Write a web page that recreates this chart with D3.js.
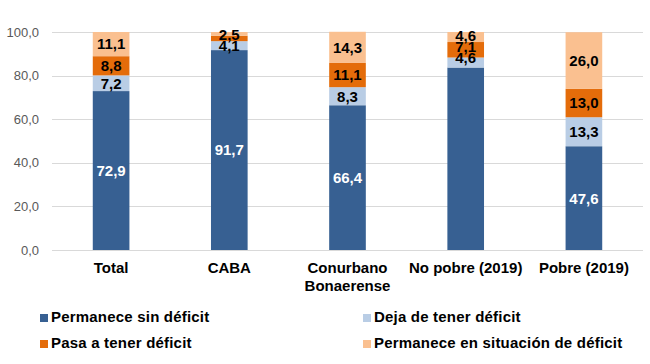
<!DOCTYPE html>
<html>
<head>
<meta charset="utf-8">
<script src="https://cdn.jsdelivr.net/npm/d3@7"></script>
<style>
  body { margin: 0; background: #fff; }
  text { font-family: "Liberation Sans", Arial, sans-serif; }
</style>
</head>
<body>
<div id="chart"></div>
<script>
// categories (x axis), line breaks with \n
const categories = ["Total", "CABA", "Conurbano\nBonaerense", "No pobre (2019)", "Pobre (2019)"];

// series, bottom to top
const seriesNames = ["Permanece sin déficit", "Deja de tener déficit", "Pasa a tener déficit", "Permanece en situación de déficit"];
const permaneceSin = [72.9, 91.7, 66.4, 83.7, 47.6];
const dejaDeTener = [7.2, 4.1, 8.3, 4.6, 13.3];
const pasaATener = [8.8, 2.5, 11.1, 7.1, 13.0];
const permaneceEn = [11.1, 1.7, 14.3, 4.6, 26.0];

const yTicks = [0, 20, 40, 60, 80, 100];

class StackedBarChart {
    constructor(_config) {
        this.config = {
            parentElement: _config.parentElement,
            containerWidth: _config.containerWidth,
            containerHeight: _config.containerHeight
        };
        this.initVis();
    }

    initVis() {
        let vis = this;

        vis.colors = ["#376092", "#b9cde5", "#e46c0a", "#fac090"];
        vis.labelColors = ["#ffffff", "#000000", "#000000", "#000000"];

        // labels the original leaves out, and the ones it pushes up to avoid overlap
        // key = series index + "-" + category index
        vis.hiddenLabels = ["3-1", "0-3"];
        vis.labelShift = { "2-1": -4, "1-3": -5, "2-3": -3, "3-3": -1 };

        vis.svg = d3.select(vis.config.parentElement).append("svg")
            .attr("width", vis.config.containerWidth)
            .attr("height", vis.config.containerHeight);

        vis.xScale = d3.scaleBand()
            .domain(categories)
            .range([52, 643])
            .paddingInner(0.69)
            .paddingOuter(0.345);

        vis.yScale = d3.scaleLinear()
            .domain([0, 100])
            .range([250, 32]);

        // build the stack table from the series arrays
        vis.table = categories.map((c, i) => ({
            cat: c,
            idx: i,
            s0: permaneceSin[i],
            s1: dejaDeTener[i],
            s2: pasaATener[i],
            s3: permaneceEn[i]
        }));
        vis.stacked = d3.stack().keys(["s0", "s1", "s2", "s3"])(vis.table);

        vis.renderVis();
    }

    renderVis() {
        let vis = this;

        // gridlines
        vis.svg.append("g")
            .selectAll("line")
            .data(yTicks)
            .join("line")
            .attr("x1", 52)
            .attr("x2", 643)
            .attr("y1", d => Math.round(vis.yScale(d)) + 0.5)
            .attr("y2", d => Math.round(vis.yScale(d)) + 0.5)
            .attr("stroke", "#d9d9d9")
            .attr("stroke-width", 1);

        // y axis labels
        vis.svg.append("g")
            .selectAll("text")
            .data(yTicks)
            .join("text")
            .attr("x", 39)
            .attr("y", d => vis.yScale(d))
            .attr("dy", "0.35em")
            .attr("text-anchor", "end")
            .style("font-size", "13px")
            .style("fill", "#595959")
            .text(d => d3.format(".1f")(d).replace(".", ","));

        // bars
        let layers = vis.svg.append("g")
            .selectAll("g")
            .data(vis.stacked)
            .join("g")
            .attr("fill", (d, i) => vis.colors[i]);

        layers.selectAll("rect")
            .data(d => d)
            .join("rect")
            .attr("x", d => vis.xScale(d.data.cat))
            .attr("y", d => vis.yScale(d[1]))
            .attr("width", vis.xScale.bandwidth())
            .attr("height", d => vis.yScale(d[0]) - vis.yScale(d[1]));

        // value labels
        vis.svg.append("g")
            .selectAll("g")
            .data(vis.stacked)
            .join("g")
            .attr("fill", (d, i) => vis.labelColors[i])
            .selectAll("text")
            .data(s => s.map(p => ({ p: p, key: s.index + "-" + p.data.idx }))
                .filter(d => !vis.hiddenLabels.includes(d.key)))
            .join("text")
            .attr("x", d => vis.xScale(d.p.data.cat) + vis.xScale.bandwidth() / 2)
            .attr("y", d => vis.yScale((d.p[0] + d.p[1]) / 2) + (vis.labelShift[d.key] || 0))
            .attr("dy", "0.36em")
            .attr("text-anchor", "middle")
            .style("font-size", "15px")
            .style("font-weight", "bold")
            .text(d => d3.format(".1f")(d.p[1] - d.p[0]).replace(".", ","));

        // category labels
        let catLabels = vis.svg.append("g")
            .selectAll("text")
            .data(categories)
            .join("text")
            .attr("x", d => vis.xScale(d) + vis.xScale.bandwidth() / 2)
            .attr("y", 273)
            .attr("text-anchor", "middle")
            .style("font-size", "15px")
            .style("font-weight", "bold")
            .style("fill", "#000");

        catLabels.selectAll("tspan")
            .data(d => d.split("\n"))
            .join("tspan")
            .attr("x", function () { return d3.select(this.parentNode).attr("x"); })
            .attr("dy", (d, i) => i === 0 ? 0 : 18)
            .text(d => d);

        // legend
        let legendPos = [[40, 322], [363, 322], [40, 348], [363, 348]];

        let legend = vis.svg.append("g")
            .selectAll("g")
            .data(seriesNames)
            .join("g")
            .attr("transform", (d, i) => `translate(${legendPos[i][0]},${legendPos[i][1]})`);

        legend.append("rect")
            .attr("x", 0)
            .attr("y", -8)
            .attr("width", 8)
            .attr("height", 8)
            .attr("fill", (d, i) => vis.colors[i]);

        legend.append("text")
            .attr("x", 11)
            .attr("y", 0)
            .style("font-size", "15px")
            .style("font-weight", "bold")
            .style("letter-spacing", "0.2px")
            .text(d => d);
    }
}

const chart = new StackedBarChart({
    parentElement: "#chart",
    containerWidth: 650,
    containerHeight: 364
});
</script>
</body>
</html>
